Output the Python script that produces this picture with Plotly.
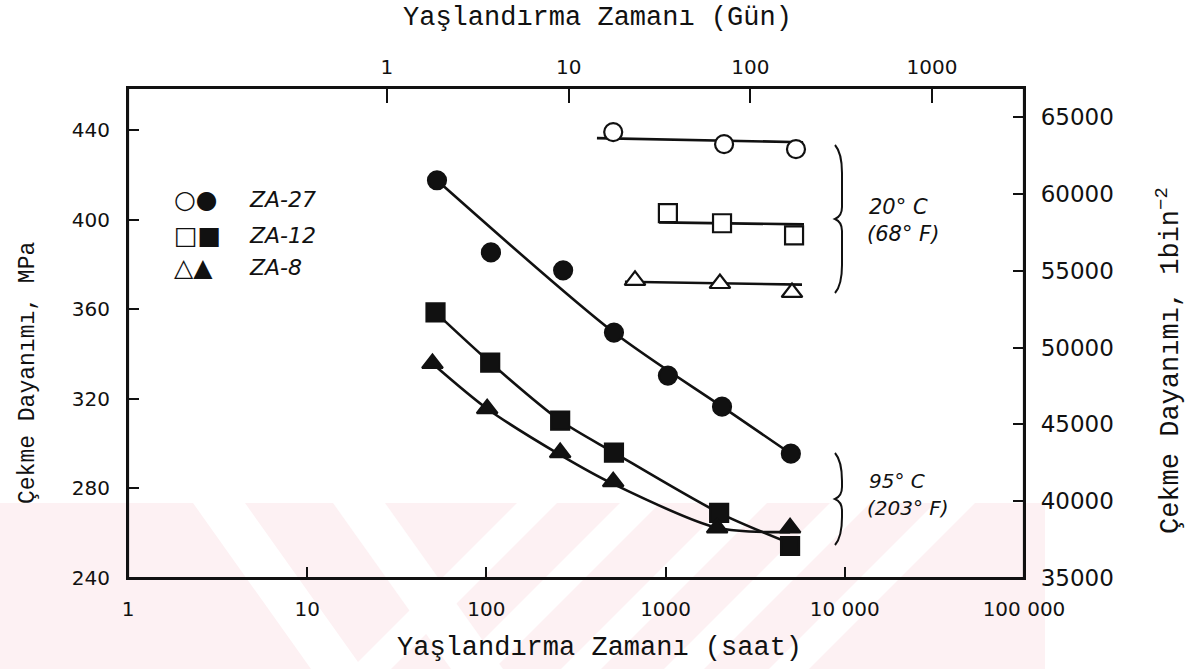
import plotly.graph_objects as go

# ---- measured data: aging time (hours) vs tensile strength (MPa) ----
# 95 °C (203 °F) aging
za27_95_h = [53, 106, 268, 515, 1030, 2065, 5000]
za27_95_mpa = [417.6, 385.4, 377.4, 349.6, 330.4, 316.5, 295.5]
za12_95_h = [52, 105, 258, 515, 1990, 4950]
za12_95_mpa = [358.6, 336.2, 310.3, 296.0, 269.1, 254.3]
za8_95_h = [50, 101, 258, 510, 1940, 4950]
za8_95_mpa = [335.8, 315.6, 296.0, 283.0, 262.4, 262.4]

# 20 °C (68 °F) aging
za27_20_h = [510, 2120, 5340]
za27_20_mpa = [439.1, 433.7, 431.5]
za12_20_h = [1030, 2065, 5210]
za12_20_mpa = [402.9, 398.4, 393.0]
za8_20_h = [675, 2010, 5075]
za8_20_mpa = [372.9, 371.5, 367.5]

# ---- trend curves ----
fit27_95_h = [53, 515, 2065, 5000]
fit27_95_mpa = [417.6, 349.6, 316.5, 295.5]
fit12_95_h = [52, 105, 258, 515, 1990, 4950]
fit12_95_mpa = [358.6, 336.2, 310.3, 296.0, 269.1, 255.5]
fit8_95_h = [50, 101, 258, 510, 1940, 4950]
fit8_95_mpa = [335.8, 315.6, 295.0, 282.0, 262.4, 260.5]

fit27_20_h = [414, 5850]
fit27_20_mpa = [436.4, 434.6]
fit12_20_h = [920, 5920]
fit12_20_mpa = [398.8, 397.9]
fit8_20_h = [593, 5770]
fit8_20_mpa = [372.3, 371.0]

# ---- axis ticks ----
hour_ticks = [1, 10, 100, 1000, 10000, 100000]
hour_labels = ["1", "10", "100", "1000", "10 000", "100 000"]
day_ticks = [1, 10, 100, 1000]
day_labels = ["1", "10", "100", "1000"]
mpa_ticks = [240, 280, 320, 360, 400, 440]
psi_ticks = [35000, 40000, 45000, 50000, 55000, 60000, 65000]
psi_labels = ["35000", "40000", "45000", "50000", "55000", "60000", "65000"]

W, H = 1191, 669
L, R, T, B = 128, 1024, 88, 578   # plot frame in pixels


def px(x):
    return (x - L) / (R - L)


def py(y):
    return (B - y) / (B - T)


INK = "#111111"
TICK_FONT = dict(family="DejaVu Sans", size=20, color=INK)
MONO = "Liberation Mono"

fig = go.Figure()


def curve(xs, ys, smooth=True):
    fig.add_trace(go.Scatter(
        x=xs, y=ys, mode="lines",
        line=dict(color=INK, width=2.6, shape="spline" if smooth else "linear",
                  smoothing=0.8),
        hoverinfo="skip", showlegend=False))


def points(xs, ys, symbol, filled, size=18):
    fig.add_trace(go.Scatter(
        x=xs, y=ys, mode="markers",
        marker=dict(symbol=symbol, size=size,
                    color=INK if filled else "white",
                    line=dict(color=INK, width=2.2)),
        showlegend=False))


# trend lines
curve(fit27_95_h, fit27_95_mpa)
curve(fit12_95_h, fit12_95_mpa)
curve(fit8_95_h, fit8_95_mpa)
curve(fit27_20_h, fit27_20_mpa, smooth=False)
curve(fit12_20_h, fit12_20_mpa, smooth=False)
curve(fit8_20_h, fit8_20_mpa, smooth=False)

# markers
points(za27_95_h, za27_95_mpa, "circle", True)
points(za12_95_h, za12_95_mpa, "square", True)
points(za8_95_h, za8_95_mpa, "triangle-up", True)
points(za27_20_h, za27_20_mpa, "circle", False)
points(za12_20_h, za12_20_mpa, "square", False)
points(za8_20_h, za8_20_mpa, "triangle-up", False)

# invisible carriers for the secondary (days / psi) axes
fig.add_trace(go.Scatter(x=day_ticks, y=[None] * len(day_ticks), xaxis="x2",
                         yaxis="y", mode="markers", showlegend=False,
                         hoverinfo="skip"))
fig.add_trace(go.Scatter(x=[None], y=psi_ticks[:1], xaxis="x", yaxis="y2",
                         mode="markers", showlegend=False, hoverinfo="skip"))

axis_common = dict(showline=True, linecolor=INK, linewidth=2.2, mirror=False,
                   ticks="inside", tickcolor=INK, tickwidth=1.8,
                   showgrid=False, zeroline=False, tickfont=TICK_FONT)

fig.update_layout(
    width=W, height=H,
    margin=dict(l=L, r=W - R, t=T, b=H - B),
    paper_bgcolor="white", plot_bgcolor="rgba(0,0,0,0)",
    showlegend=False,
    xaxis=dict(type="log", range=[0, 5], tickvals=hour_ticks,
               ticktext=hour_labels, ticklen=11, ticklabelstandoff=12,
               **axis_common),
    xaxis2=dict(type="log", range=[-1.425, 3.506], overlaying="x",
                side="top", tickvals=day_ticks, ticktext=day_labels,
                ticklen=15, ticklabelstandoff=4, **axis_common),
    yaxis=dict(range=[240, 458.8], tickvals=mpa_ticks, ticklen=11,
               ticklabelstandoff=12, **axis_common),
    yaxis2=dict(range=[35000, 66887], overlaying="y", side="right",
                tickvals=psi_ticks, ticktext=psi_labels, ticklen=11,
                ticklabelstandoff=10,
                **{**axis_common,
                   "tickfont": dict(family="DejaVu Sans", size=23, color=INK)}),
)


def note(text, x, y, size=20, italic=False, family="DejaVu Sans",
         xanchor="left", angle=0):
    fig.add_annotation(
        text=text, xref="paper", yref="paper", x=px(x), y=py(y),
        xanchor=xanchor, yanchor="middle", showarrow=False, textangle=angle,
        font=dict(family=family, size=size, color=INK,
                  style="italic" if italic else "normal"))


# axis titles
note("Yaşlandırma Zamanı (Gün)", 597, 18, size=27, family=MONO, xanchor="center")
note("Yaşlandırma Zamanı (saat)", 599, 648, size=27, family=MONO, xanchor="center")
note("Çekme Dayanımı, MPa", 28, 373, size=23, family=MONO, xanchor="center",
     angle=-90)
note("Çekme Dayanımı, 1bin<sup>−2</sup>", 1168, 361, size=27, family=MONO,
     xanchor="center", angle=-90)

# legend
note("○●", 172, 199, size=25, xanchor="left")
note("□■", 172, 236, size=25, xanchor="left")
note("△▲", 172, 267, size=25, xanchor="left")
note("ZA-27", 247, 199, size=22, italic=True)
note("ZA-12", 247, 236, size=22, italic=True)
note("ZA-8", 247, 267, size=22, italic=True)

# temperature labels
note("20° C", 867, 207, size=21, italic=True)
note("(68° F)", 865, 234, size=21, italic=True)
note("95° C", 867, 481, size=20, italic=True)
note("(203° F)", 865, 508, size=20, italic=True)


def brace(x, top, bot):
    mid = (top + bot) / 2
    pts = [
        f"M {px(x - 4)},{py(top)}",
        f"Q {px(x + 3)},{py(top + 8)} {px(x + 3)},{py(top + 28)}",
        f"L {px(x + 3)},{py(mid - 12)}",
        f"Q {px(x + 3)},{py(mid - 3)} {px(x - 4)},{py(mid)}",
        f"Q {px(x + 3)},{py(mid + 3)} {px(x + 3)},{py(mid + 12)}",
        f"L {px(x + 3)},{py(bot - 28)}",
        f"Q {px(x + 3)},{py(bot - 8)} {px(x - 4)},{py(bot)}",
    ]
    fig.add_shape(type="path", path=" ".join(pts), xref="paper", yref="paper",
                  line=dict(color=INK, width=2))


brace(839, 145, 293)
brace(839, 453, 545)


# pale pink page watermark along the lower edge
def poly(pts, color):
    path = "M " + " L ".join(f"{px(x)},{py(y)}" for x, y in pts) + " Z"
    fig.add_shape(type="path", path=path, xref="paper", yref="paper",
                  fillcolor=color, line=dict(width=0), layer="below")


PINK = "#fdf1f3"
poly([(0, 503), (1045, 503), (1045, 669), (0, 669)], PINK)
for x0 in (193, 333):            # stripes running down to the right
    poly([(x0, 503), (x0 + 52, 503), (x0 + 52 + 118, 669), (x0 + 118, 669)],
         "white")
for x0 in (517, 620, 727, 830, 935):   # stripes running down to the left
    poly([(x0, 503), (x0 + 40, 503), (x0 + 40 - 166, 669), (x0 - 166, 669)],
         "white")

# close the frame on the top/right edges
fig.add_shape(type="rect", xref="paper", yref="paper", x0=0, y0=0, x1=1, y1=1,
              line=dict(color=INK, width=2.2), layer="above")

fig.write_html("out.html")
